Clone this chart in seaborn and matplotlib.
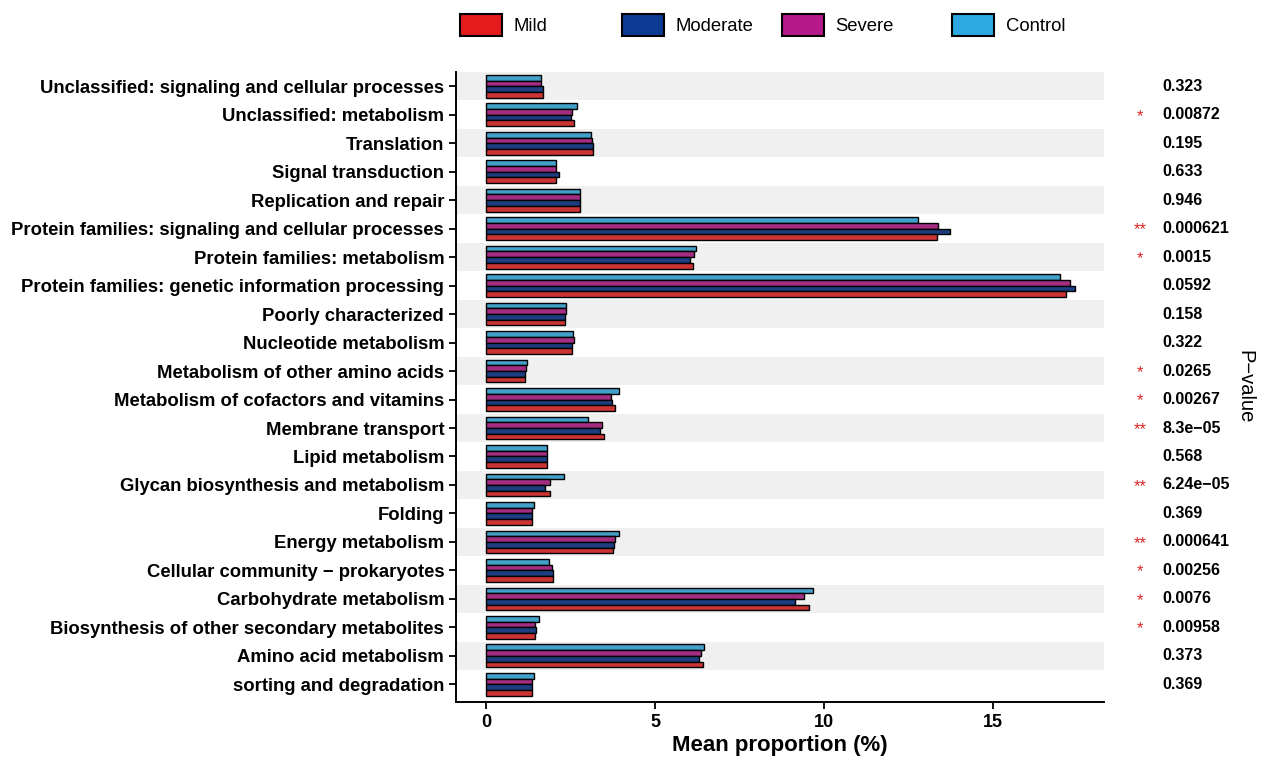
import matplotlib
matplotlib.use('Agg')
import matplotlib.pyplot as plt
import matplotlib.patches as mpatches
import matplotlib.transforms as mtransforms
import seaborn as sns
import pandas as pd

categories = [
    'Unclassified: signaling and cellular processes',
    'Unclassified: metabolism',
    'Translation',
    'Signal transduction',
    'Replication and repair',
    'Protein families: signaling and cellular processes',
    'Protein families: metabolism',
    'Protein families: genetic information processing',
    'Poorly characterized',
    'Nucleotide metabolism',
    'Metabolism of other amino acids',
    'Metabolism of cofactors and vitamins',
    'Membrane transport',
    'Lipid metabolism',
    'Glycan biosynthesis and metabolism',
    'Folding',
    'Energy metabolism',
    'Cellular community \u2212 prokaryotes',
    'Carbohydrate metabolism',
    'Biosynthesis of other secondary metabolites',
    'Amino acid metabolism',
    'sorting and degradation',
]

control = [1.63, 2.69, 3.09, 2.05, 2.78, 12.77, 6.19, 16.99, 2.37, 2.56, 1.20,
           3.92, 3.01, 1.79, 2.29, 1.40, 3.93, 1.84, 9.68, 1.55, 6.43, 1.40]
severe = [1.61, 2.52, 3.14, 2.07, 2.78, 13.38, 6.13, 17.26, 2.36, 2.58, 1.16,
          3.68, 3.41, 1.79, 1.89, 1.36, 3.81, 1.95, 9.39, 1.45, 6.36, 1.36]
moderate = [1.68, 2.49, 3.16, 2.14, 2.78, 13.71, 6.02, 17.43, 2.34, 2.52, 1.13,
            3.71, 3.37, 1.79, 1.74, 1.36, 3.78, 1.98, 9.14, 1.46, 6.30, 1.36]
mild = [1.68, 2.58, 3.16, 2.07, 2.78, 13.35, 6.11, 17.16, 2.32, 2.52, 1.14,
        3.80, 3.48, 1.78, 1.89, 1.36, 3.74, 1.98, 9.56, 1.45, 6.41, 1.36]

p_values = ['0.323', '0.00872', '0.195', '0.633', '0.946', '0.000621', '0.0015',
            '0.0592', '0.158', '0.322', '0.0265', '0.00267', '8.3e\u221205',
            '0.568', '6.24e\u221205', '0.369', '0.000641', '0.00256', '0.0076',
            '0.00958', '0.373', '0.369']
stars = ['', '*', '', '', '', '**', '*', '', '', '', '*', '*', '**', '',
         '**', '', '**', '*', '*', '*', '', '']

groups = ['Mild', 'Moderate', 'Severe', 'Control']
colors = {'Mild': '#E41A1C', 'Moderate': '#0C3A93',
          'Severe': '#B5198A', 'Control': '#2BA9E0'}

sns.set_style('white')
plt.rcParams['font.family'] = ['Liberation Sans', 'DejaVu Sans']
plt.rcParams['text.color'] = 'black'
plt.rcParams['axes.labelcolor'] = 'black'
plt.rcParams['xtick.color'] = 'black'
plt.rcParams['ytick.color'] = 'black'

df = pd.DataFrame({
    'Category': categories * 4,
    'Group': ['Control'] * 22 + ['Severe'] * 22 + ['Moderate'] * 22 + ['Mild'] * 22,
    'Value': control + severe + moderate + mild,
})

fig = plt.figure(figsize=(12.62, 7.59), dpi=100)
ax = fig.add_axes([456 / 1262, 1 - 702 / 759, (1104 - 456) / 1262, (702 - 72) / 759])

# alternating grey bands behind every other category
for i in range(0, len(categories), 2):
    ax.axhspan(i - 0.5, i + 0.5, color='#f0f0f0', lw=0, zorder=0)

sns.barplot(
    data=df, y='Category', x='Value', hue='Group',
    hue_order=['Control', 'Severe', 'Moderate', 'Mild'],
    palette=colors, order=categories, orient='h', errorbar=None,
    edgecolor='black', linewidth=1.0, width=0.8, ax=ax, legend=False,
)

ax.set_xlim(-0.9, 18.28)
ax.set_ylim(len(categories) - 0.38, -0.5)
ax.set_xticks([0, 5, 10, 15])
ax.set_ylabel('')
ax.set_xlabel('Mean proportion (%)', fontsize=16, fontweight='bold', labelpad=3)
ax.tick_params(axis='both', direction='out', length=5, width=1.3, color='black',
               labelcolor='black', left=True, bottom=True)
for lbl in ax.get_yticklabels():
    lbl.set_fontsize(13.3)
    lbl.set_fontweight('bold')
for lbl in ax.get_xticklabels():
    lbl.set_fontsize(13)
    lbl.set_fontweight('bold')

sns.despine(ax=ax, top=True, right=True)
for side in ['left', 'bottom']:
    ax.spines[side].set_linewidth(1.4)
    ax.spines[side].set_color('black')

# p-values and significance stars to the right of the panel
trans = mtransforms.blended_transform_factory(ax.transAxes, ax.transData)
for i, (p, s) in enumerate(zip(p_values, stars)):
    ax.text(1.09, i, p, transform=trans, ha='left', va='center',
            fontsize=11.5, fontweight='bold', clip_on=False)
    if s:
        ax.text(1.056, i + 0.05, s, transform=trans, ha='center', va='center',
                fontsize=12, color='#d62728', clip_on=False)

ax.text(1.218, 0.5, 'P\u2212value', transform=ax.transAxes, rotation=-90,
        ha='center', va='center', fontsize=14.5)

legend_x = [460, 622, 782, 952]
for g, x in zip(groups, legend_x):
    handle = mpatches.Patch(facecolor=colors[g], edgecolor='black', linewidth=1.5)
    fig.legend(handles=[handle], labels=[g], loc='center left',
               bbox_to_anchor=(x / 1262, 1 - 25 / 759), frameon=False,
               fontsize=13.3, handlelength=2.3, handleheight=1.4,
               handletextpad=0.6, borderpad=0, borderaxespad=0)

fig.savefig('out.png', dpi=100)
